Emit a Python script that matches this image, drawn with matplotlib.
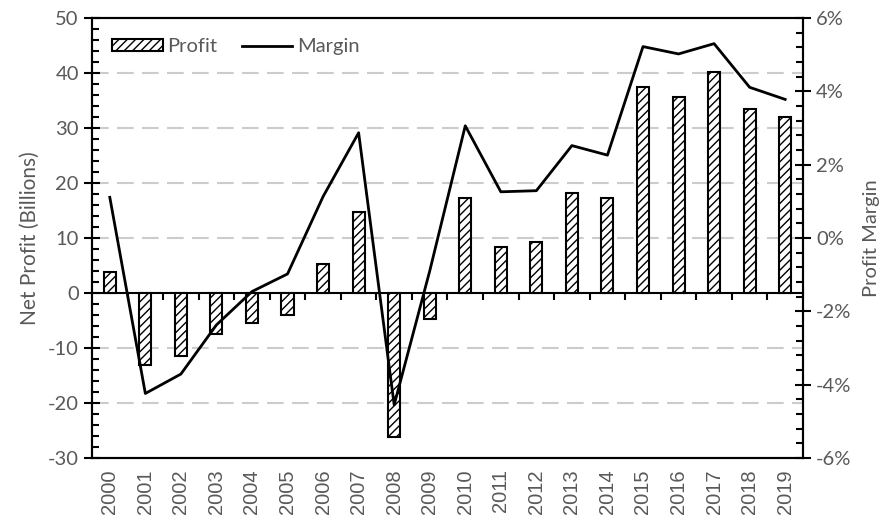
# profit_margin.py
# bars for net profit (left axis) and a line for the profit margin (right axis)

import matplotlib
matplotlib.use('Agg')
import matplotlib.pyplot as plt
from matplotlib.ticker import MultipleLocator, PercentFormatter

years = [str(y) for y in range(2000, 2020)]
profit = [3.9, -13.1, -11.5, -7.5, -5.5, -4.0, 5.2, 14.7, -26.2, -4.7,
          17.2, 8.3, 9.2, 18.1, 17.2, 37.4, 35.7, 40.1, 33.5, 32.0]
margin = [0.0111, -0.0424, -0.0371, -0.0237, -0.0146, -0.0098, 0.0113, 0.0287, -0.0455, -0.0090,
          0.0306, 0.0126, 0.0129, 0.0252, 0.0226, 0.0522, 0.0502, 0.0530, 0.0411, 0.0378]

grey = '#595959'
plt.rcParams['font.family'] = ['Lato', 'DejaVu Sans']
plt.rcParams['axes.unicode_minus'] = False
plt.rcParams['hatch.linewidth'] = 1.0

fig = plt.figure(figsize=(8.9, 5.2), dpi=100)
ax = fig.add_axes([0.1034, 0.1192, 0.7988, 0.8462])
x = list(range(len(years)))

# dashed grid lines for the left axis
for g in [40, 30, 20, 10, -10, -20]:
    ax.axhline(g, color='#cccccc', lw=1.5, ls=(0, (8, 4)), zorder=0)

bars = ax.bar(x, profit, width=0.34, color='white', edgecolor='black',
              linewidth=1.5, hatch='////', label='Profit', zorder=2)

ax.set_xlim(-0.5, len(years) - 0.5)
ax.set_ylim(-30, 50)
ax.yaxis.set_major_locator(MultipleLocator(10))
ax.yaxis.set_minor_locator(MultipleLocator(2))
ax.set_xticks(x)
ax.set_xticklabels(years, rotation=90, family='Liberation Sans', fontsize=14.5, color=grey)
ax.tick_params(axis='x', length=0, pad=8)
ax.tick_params(axis='y', which='major', direction='inout', length=12, width=1.5,
               labelsize=14.5, labelcolor=grey)
ax.tick_params(axis='y', which='minor', direction='in', length=5, width=1.5)
ax.set_ylabel('Net Profit (Billions)', fontsize=15, color=grey, labelpad=6)
for s in ax.spines.values():
    s.set_linewidth(1.5)
    s.set_color('black')

# category axis running along zero with ticks between the years
zero_pos = (0 - (-30)) / (50 - (-30))
sec = ax.secondary_xaxis(zero_pos)
sec.set_xticks([i - 0.5 for i in x[1:]])
sec.tick_params(axis='x', direction='out', length=5, width=1.5, labelbottom=False)
sec.spines['bottom'].set_linewidth(1.5)

ax2 = ax.twinx()
line, = ax2.plot(x, margin, color='black', lw=2, label='Margin', zorder=3)
ax2.set_ylim(-0.06, 0.06)
ax2.yaxis.set_major_locator(MultipleLocator(0.02))
ax2.yaxis.set_minor_locator(MultipleLocator(0.004))
ax2.yaxis.set_major_formatter(PercentFormatter(1, decimals=0))
ax2.tick_params(axis='y', which='major', direction='inout', length=12, width=1.5,
                labelsize=14.5, labelcolor=grey)
ax2.tick_params(axis='y', which='minor', direction='in', length=5, width=1.5)
ax2.set_ylabel('Profit Margin', fontsize=14.5, color=grey, labelpad=8)
for s in ax2.spines.values():
    s.set_linewidth(1.5)

leg = ax2.legend([bars, line], ['Profit', 'Margin'], loc='upper left', ncol=2,
                 frameon=False, fontsize=14.5, handlelength=2.5, handleheight=0.5,
                 handletextpad=0.25, columnspacing=1.2, borderaxespad=0.6)
for t in leg.get_texts():
    t.set_color(grey)

fig.savefig('out.png', dpi=100)
